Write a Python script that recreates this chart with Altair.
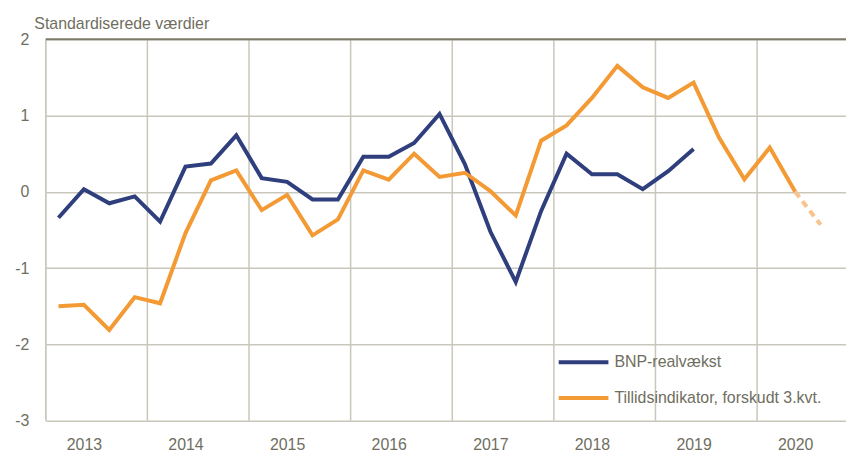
import altair as alt
import pandas as pd

years = [2013, 2014, 2015, 2016, 2017, 2018, 2019, 2020]

bnp = [-0.34, 0.035, -0.15, -0.06,
       -0.39, 0.33, 0.37, 0.74,
       0.18, 0.13, -0.10, -0.10,
       0.46, 0.46, 0.64, 1.02,
       0.36, -0.52, -1.18, -0.25,
       0.50, 0.23, 0.23, 0.035,
       0.27, 0.56]

tillid = [-1.50, -1.48, -1.81, -1.38,
          -1.46, -0.54, 0.15, 0.28,
          -0.24, -0.04, -0.57, -0.36,
          0.28, 0.16, 0.50, 0.195,
          0.25, 0.01, -0.31, 0.67,
          0.87, 1.23, 1.65, 1.37,
          1.23, 1.43, 0.71, 0.165,
          0.58, 0.0]

forecast = [0.0, -0.43]  # 2020Q2 -> 2020Q3

s_bnp = "BNP-realvækst"
s_til = "Tillidsindikator, forskudt 3.kvt."


def qpos(i):
    y = 2013 + i // 4
    q = i % 4 + 1
    return y + (q - 0.5) / 4


rows = []
for i, v in enumerate(bnp):
    rows.append({"t": qpos(i), "v": v, "s": s_bnp})
for i, v in enumerate(tillid):
    rows.append({"t": qpos(i), "v": v, "s": s_til})
df = pd.DataFrame(rows)

df_fc = pd.DataFrame({"t": [qpos(29), qpos(30)], "v": forecast})
df_years = pd.DataFrame({"yr": years})

FONT = "Liberation Sans"
TXT = "#6f6e60"
GRID = "#c9c7bb"

xs = alt.Scale(domain=[2013, 2020.875], nice=False, zero=False)
ys = alt.Scale(domain=[-3, 2], nice=False, zero=False)

label_vals = [y + 0.375 for y in years]

vgrid = alt.Chart(df_years).mark_rule(color=GRID, strokeWidth=1.5).encode(
    x=alt.X("yr:Q", scale=xs)
)

top = alt.Chart(pd.DataFrame({"v": [2]})).mark_rule(color="#7d7a68", strokeWidth=2).encode(
    y=alt.Y("v:Q", scale=ys)
)

lines = alt.Chart(df).mark_line(strokeWidth=4).encode(
    x=alt.X("t:Q", scale=xs,
            axis=alt.Axis(values=label_vals, labelExpr="floor(datum.value)",
                          grid=False, ticks=False, domain=False, title=None,
                          labelFont=FONT, labelFontSize=16, labelColor=TXT,
                          labelPadding=16)),
    y=alt.Y("v:Q", scale=ys,
            axis=alt.Axis(values=[-3, -2, -1, 0, 1, 2], labelExpr="'' + datum.value",
                          grid=True, gridColor=GRID, gridWidth=1.5, ticks=False,
                          domain=False,
                          labelFont=FONT, labelFontSize=16, labelColor=TXT,
                          labelPadding=17,
                          title="Standardiserede værdier", titleAngle=0,
                          titleX=-12, titleY=-11, titleAlign="left",
                          titleBaseline="alphabetic", titleFont=FONT,
                          titleFontSize=16, titleFontWeight="normal",
                          titleColor=TXT)),
    color=alt.Color("s:N",
                    scale=alt.Scale(domain=[s_bnp, s_til], range=["#2f3e7c", "#f39a34"]),
                    legend=alt.Legend(title=None, orient="none", legendX=514, legendY=298,
                                      symbolType="stroke", symbolSize=2500,
                                      symbolStrokeWidth=4, labelFont=FONT,
                                      labelFontSize=16, labelColor=TXT, labelLimit=0,
                                      rowPadding=1, labelOffset=4)),
)

fc = alt.Chart(df_fc).mark_line(strokeWidth=4, color="#f8c38c", strokeDash=[7, 5]).encode(
    x=alt.X("t:Q", scale=xs),
    y=alt.Y("v:Q", scale=ys),
)

chart = alt.layer(vgrid, lines, fc, top).properties(
    width=805, height=384,
    autosize=alt.AutoSizeParams(type="none"),
    padding={"left": 38, "top": 30, "right": 0, "bottom": 32},
).configure_view(stroke=None).configure(background="white")

chart.save("out.html", embed_options={"renderer": "svg", "actions": False})
